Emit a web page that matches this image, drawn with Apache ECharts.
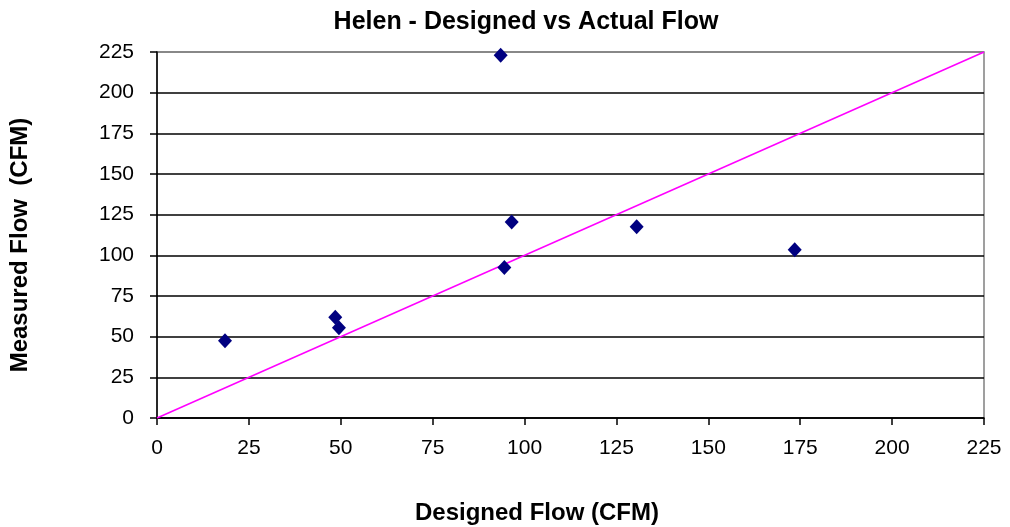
<!DOCTYPE html>
<html>
<head>
<meta charset="utf-8">
<script src="https://cdn.jsdelivr.net/npm/echarts@6/dist/echarts.min.js"></script>
<style>html,body{margin:0;padding:0;background:#fff}#c{width:1010px;height:527px}</style>
</head>
<body>
<div id="c"></div>
<script>
var designed = [18.5, 48.5, 49.5, 93.5, 94.5, 96.5, 130.5, 173.5];
var measured = [47.5, 62, 55.5, 223, 92.5, 120.5, 117.5, 103.5];
var refLineX = [0, 225];
var refLineY = [0, 225];
var titleText = 'Helen - Designed vs Actual Flow';
var xTitle = 'Designed Flow (CFM)';
var yTitle = 'Measured Flow  (CFM)';

var pts = designed.map(function (x, i) { return [x, measured[i]]; });
var ref = refLineX.map(function (x, i) { return [x, refLineY[i]]; });
var font = 'Liberation Sans, Arial, sans-serif';
var gridColors = ['#000','#000','#000','#000','#000','#000','#000','#000','#000','#808080'];

var chart = echarts.init(document.getElementById('c'));
chart.setOption({
  animation: false,
  backgroundColor: '#fff',
  grid: { left: 157, right: 26, top: 52, bottom: 109, show: true, borderColor: '#808080', borderWidth: 1.5, backgroundColor: 'transparent' },
  xAxis: {
    type: 'value', min: 0, max: 225, interval: 25,
    axisLine: { show: true, onZero: false, lineStyle: { color: '#000', width: 1.5 } },
    axisTick: { show: true, length: 7, lineStyle: { color: '#000', width: 1.5 } },
    axisLabel: { margin: 20, fontFamily: font, fontSize: 21, color: '#000' },
    splitLine: { show: false }
  },
  yAxis: {
    type: 'value', min: 0, max: 225, interval: 25,
    axisLine: { show: true, onZero: false, lineStyle: { color: '#000', width: 1.5 } },
    axisTick: { show: true, length: 7, lineStyle: { color: '#000', width: 1.5 } },
    axisLabel: { margin: 23, fontFamily: font, fontSize: 21, color: '#000' },
    splitLine: { show: true, lineStyle: { color: gridColors, width: 1.5 } }
  },
  graphic: [
    { type: 'text', style: { text: titleText, font: 'bold 25px ' + font, fill: '#000', align: 'center', verticalAlign: 'middle' }, x: 526, y: 22 },
    { type: 'text', style: { text: xTitle, font: 'bold 24px ' + font, fill: '#000', align: 'center', verticalAlign: 'middle' }, x: 537, y: 513 },
    { type: 'text', rotation: Math.PI / 2, style: { text: yTitle, font: 'bold 24px ' + font, fill: '#000', align: 'center', verticalAlign: 'middle' }, x: 20, y: 245 }
  ],
  series: [
    {
      type: 'line', data: ref, showSymbol: false, symbol: 'none',
      lineStyle: { color: '#ff00ff', width: 1.5 }, z: 3
    },
    {
      type: 'scatter', data: pts, symbol: 'diamond', symbolSize: [14, 15],
      itemStyle: { color: '#000080', opacity: 1 }, z: 4
    }
  ]
});
</script>
</body>
</html>
